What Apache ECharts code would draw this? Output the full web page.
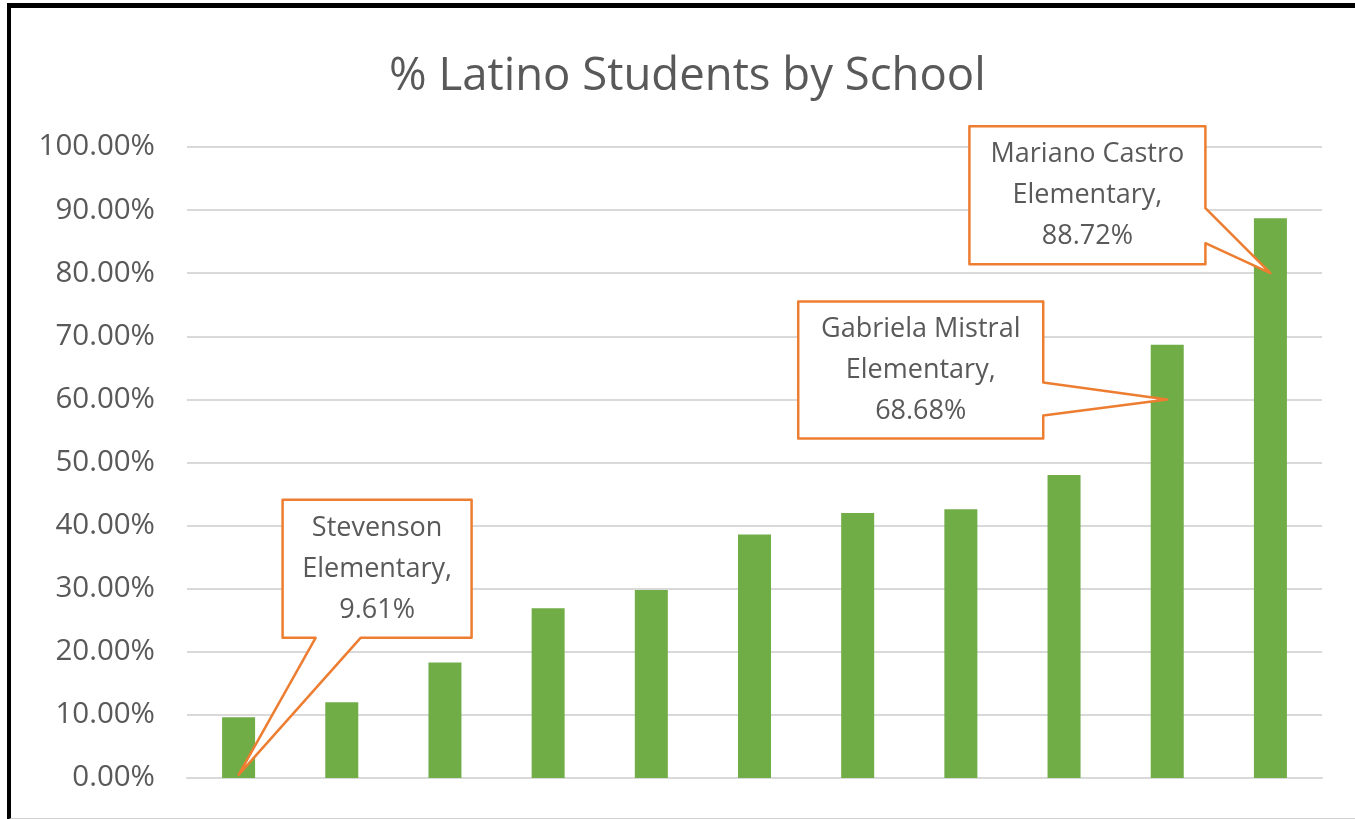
<!DOCTYPE html>
<html>
<head>
<meta charset="utf-8">
<script src="https://cdn.jsdelivr.net/npm/echarts@6/dist/echarts.min.js"></script>
<style>
  html, body { margin: 0; padding: 0; background: #fff; }
  #chart { position: absolute; left: 0; top: 0; width: 1355px; height: 819px; }
  #frame { position: absolute; left: 7px; top: 3px; width: 1360px; height: 810px;
           border-top: 5px solid #000; border-left: 4px solid #000; border-bottom: 2px solid #d0d0d0;
           pointer-events: none; }
</style>
</head>
<body>
<div id="chart"></div>
<div id="frame"></div>
<script>
// ---- data ----
const titleText = '% Latino Students by School';
const categories = [
  'Stevenson Elementary', 'School 2', 'School 3', 'School 4', 'School 5', 'School 6',
  'School 7', 'School 8', 'School 9', 'Gabriela Mistral Elementary', 'Mariano Castro Elementary'
];
const latinoPct = [9.61, 12.0, 18.3, 26.9, 29.8, 38.6, 42.0, 42.6, 48.0, 68.68, 88.72];
const yMin = 0;
const yMax = 100;
const yInterval = 10;
// callouts: which school, and the value level where the pointer touches the bar
const calloutSchools = [0, 9, 10];
const calloutTipValues = [0.5, 60, 80];

// ---- callout geometry (pixel offsets from pointer tip; styling only) ----
const calloutLayout = [
  { l: 44, t: -275, r: 233, b: -137, side: 'bottom', w: [77, 122] },
  { l: -369, t: -98, r: -124, b: 39, side: 'right', w: [-17, 16] },
  { l: -301, t: -147, r: -65, b: -9, side: 'right', w: [-65, -30] }
];

const FONT = '"Open Sans", "Noto Sans", sans-serif';
const TEXT = '#595959';

function calloutText(i) {
  const name = categories[i];
  return name.replace(' Elementary', '\nElementary') + ',\n' + latinoPct[i].toFixed(2) + '%';
}

const calloutData = calloutSchools.map((s, k) => [s, calloutTipValues[k], k]);

const chart = echarts.init(document.getElementById('chart'), null, { renderer: 'canvas' });
chart.setOption({
  animation: false,
  backgroundColor: '#ffffff',
  title: {
    text: titleText,
    left: 384,
    top: 49,
    textStyle: { fontFamily: FONT, fontSize: 45.5, fontWeight: 'normal', color: TEXT }
  },
  grid: { left: 187, right: 33, top: 147, bottom: 41, outerBoundsMode: 'none', containLabel: false },
  xAxis: {
    type: 'category',
    data: categories,
    axisLine: { show: true, lineStyle: { color: '#d9d9d9', width: 2 } },
    axisTick: { show: false },
    axisLabel: { show: false },
    splitLine: { show: false }
  },
  yAxis: {
    type: 'value',
    min: yMin,
    max: yMax,
    interval: yInterval,
    axisLine: { show: false },
    axisTick: { show: false },
    axisLabel: {
      margin: 32,
      fontFamily: FONT,
      fontSize: 29.5,
      color: TEXT,
      formatter: v => v.toFixed(2) + '%'
    },
    splitLine: { lineStyle: { color: '#d9d9d9', width: 2 } }
  },
  series: [
    {
      type: 'bar',
      data: latinoPct,
      barWidth: 33,
      itemStyle: { color: '#70AD47' },
      z: 2
    },
    {
      type: 'custom',
      data: calloutData,
      clip: false,
      z: 10,
      renderItem: function (params, api) {
        const tip = api.coord([api.value(0), api.value(1)]);
        const L = calloutLayout[api.value(2)];
        const x = tip[0], y = tip[1];
        const l = x + L.l, r = x + L.r, t = y + L.t, b = y + L.b;
        let pts;
        if (L.side === 'bottom') {
          pts = [[l, t], [r, t], [r, b], [x + L.w[1], b], [x, y], [x + L.w[0], b], [l, b]];
        } else {
          pts = [[l, t], [r, t], [r, y + L.w[0]], [x, y], [r, y + L.w[1]], [r, b], [l, b]];
        }
        return {
          type: 'group',
          children: [
            {
              type: 'polygon',
              shape: { points: pts },
              style: { fill: '#ffffff', stroke: '#ED7D31', lineWidth: 2.5, lineJoin: 'round' }
            },
            {
              type: 'text',
              style: {
                text: calloutText(calloutSchools[api.value(2)]),
                x: (l + r) / 2,
                y: (t + b) / 2,
                align: 'center',
                verticalAlign: 'middle',
                fontFamily: FONT,
                fontSize: 27,
                lineHeight: 41,
                fill: TEXT
              }
            }
          ]
        };
      }
    }
  ]
});
</script>
</body>
</html>
